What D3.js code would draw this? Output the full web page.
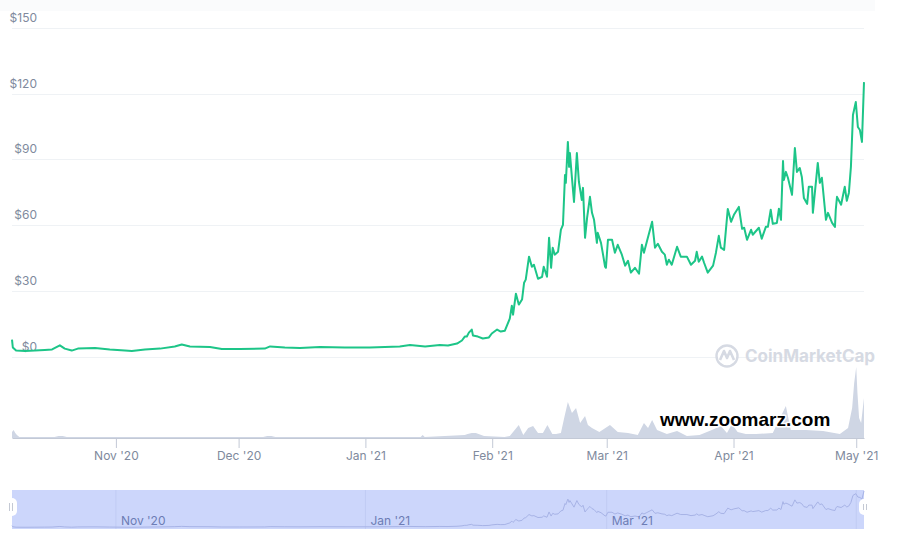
<!DOCTYPE html>
<html><head><meta charset="utf-8">
<script src="https://cdn.jsdelivr.net/npm/d3@7"></script>
<style>html,body{margin:0;padding:0;background:#fff}svg{display:block}text{font-family:Inter,"Noto Sans",sans-serif}</style>
</head><body><svg id="c" width="897" height="539"></svg>
<script>
// days since 1 Nov 2020
const priceDays=[-25.4,-25.2,-24.4,-22.2,-19.8,-17.4,-15.6,-13.7,-12.5,-10.8,-9.3,-5.1,-1.5,2.2,3.9,7.1,10.8,14.4,16.1,18.1,23,25.9,30.3,36.4,37.7,41.3,45,49.9,56,62.1,69.4,71.9,75.6,79.2,81.2,83.4,84.6,85.3,85.8,86.3,87,87.3,88.5,89.7,91.2,91.9,93.2,94.1,95.1,96.3,96.8,97.1,97.8,98.5,99.3,99.8,100.2,101,101.7,102.2,103.2,104.2,104.6,105.4,105.9,106.4,106.8,107.3,108.1,108.8,109.3,109.8,110,110.5,110.8,111,111.5,112,112.7,113.2,113.9,114.2,114.7,115.2,115.9,116.4,116.9,117.6,117.8,118.6,119.1,119.6,119.8,120.3,121.3,122,122.7,123.7,124.5,125.2,125.9,126.9,127.9,128.6,129.1,129.8,131.1,131.8,132.5,133.5,134.2,134.7,135.2,135.9,137.2,138.1,139.6,140.6,141.6,142,142.5,143.3,143.8,144.7,146,146.7,147.4,147.9,148.7,149.6,150.4,151.1,152.3,153.1,153.6,154.3,155.3,155.7,157.2,157.9,158.9,159.4,160.1,160.6,161.6,162.1,162.6,163.1,163.3,163.8,164.3,165.3,166,166.5,167.2,167.7,168.2,169,169.4,170.2,170.4,171.6,172.1,172.6,173.6,174.1,175.1,175.8,176,176.3,177.3,178.2,178.7,179.2,179.7,180.2,180.9,181.4,181.9,182.4,182.9];
const priceValues=[7.7,4.1,2.7,2.5,2.7,3,3.2,5.1,3.6,2.7,3.6,3.9,3.2,2.7,2.5,3.2,3.6,4.6,5.5,4.6,4.3,3.4,3.4,3.6,4.6,4.1,3.9,4.3,4.1,4.1,4.6,5.2,4.6,5.2,5,5.9,7.3,9.1,9.1,10.9,12.3,9.6,9.1,8.2,8.7,10.5,12.3,11.4,11.8,17.3,23.2,19.1,28.7,23.7,26,33.7,35.1,45.6,41,41.9,35.5,36.4,41,36.4,54.2,40.5,49.7,46.5,47.8,57.9,60.1,82.9,79.3,98,86.6,92.9,81.6,70.6,92.9,79.7,71.5,77,54.2,63.3,72.9,65.6,62.4,51.9,56.5,51.9,46.5,41,40.5,53.3,53.3,47.4,51,46.5,41.5,43.7,38.3,40.5,37.8,51,47.4,52.4,61.5,49.7,51.5,47.8,46.5,41.9,44.2,41.9,50.1,45.6,45.6,41.9,43.7,47.8,43.3,45.6,42.8,38.3,41.5,47.4,55.1,49.7,48.7,67.4,61.5,64.7,68.3,58.3,58.8,53.3,57.9,55.6,58.8,53.8,59.2,59.2,67,60.6,61,67.5,62.4,89.3,80.6,84.3,81.6,73.8,95.2,84.3,86.1,82,72.4,69.7,77.5,77.5,65.6,88.4,79.3,81.6,62.4,65.6,61,59.2,67,72.9,69.3,77.5,71.1,74.7,86.6,110.3,116.2,104.8,103.4,98,125.3];
const volumeDays=[-25.4,-25,-24.6,-24.2,-23.6,-23,-15,-14,-13,-12,31,36,37,38,39,70,74.5,75,75.5,85.3,86,87,88,90,95,96.3,98.5,99.6,100.8,102,103.2,104.4,105.5,106.7,107.6,108.8,109.6,110.5,111.5,112.5,113.5,114.7,115.4,116.4,118.2,120.8,122.7,125.2,127.6,129.1,130.1,131.1,132.3,134.7,137.2,139.6,142.7,145.7,147.9,149.4,150.6,152,154,156.5,160.6,163.8,165,166.2,168.7,172.9,177,179,180,180.5,181,181.3,181.7,182.2,182.9];
const volumeValues=[0.6,0.8,0.5,0.3,0.1,0.1,0.1,0.2,0.2,0.1,0.1,0.1,0.2,0.2,0.1,0.1,0.1,0.3,0.1,0.3,0.4,0.5,0.5,0.2,0.1,0.2,1.3,0.3,1,1.2,0.5,0.5,1.3,0.4,0.4,0.5,2,3.6,2.5,3,1.5,2.2,1.3,1,0.6,1.3,0.6,0.5,0.3,1.5,1,1.8,0.8,0.4,0.7,0.2,0.3,0.8,1.2,0.5,1.4,0.6,0.4,0.4,0.5,3.2,0.8,0.8,0.8,0.7,0.4,1,3,5.5,7.1,4.5,2,1.5,4];
const monthDays=[0,30,61,92,120,151,181];
const monthLabels=["Nov '20","Dec '20","Jan '21","Feb '21","Mar '21","Apr '21","May '21"];
const navLabels=["Nov '20","Jan '21","Mar '21"];
const navDays=[0,61,120];
const priceTicks=[0,30,60,90,120,150];

const toDate=d=>new Date(Date.UTC(2020,10,1)+d*864e5);
const svg=d3.select("#c");
const x=d3.scaleUtc().domain([toDate(-25.4),toDate(182.9)]).range([12,864]);
const y=d3.scaleLinear().domain([0,150]).range([356.5,28]);
const yVol=d3.scaleLinear().domain([0,7.1]).range([438,367]);
const yNav=d3.scaleLinear().domain([0,125.3]).range([528,491]);

svg.append("rect").attr("x",0).attr("y",0).attr("width",875).attr("height",11).attr("fill","#fafbfc");

// grid and price axis
const ga=svg.append("g").attr("transform","translate(37,0)")
 .call(d3.axisLeft(y).tickValues(priceTicks).tickSize(0).tickPadding(0).tickFormat(d=>"$"+d));
ga.select(".domain").remove();
ga.selectAll("text").attr("x",0).attr("dy",null).attr("y",-6.5).attr("text-anchor","end")
 .attr("dominant-baseline","auto").style("font-size","12px").style("font-family",'Inter,sans-serif').attr("fill","#808a9d");
svg.insert("g","g").selectAll("line").data(priceTicks).join("line")
 .attr("x1",12).attr("x2",864).attr("y1",d=>Math.round(y(d))+.5).attr("y2",d=>Math.round(y(d))+.5)
 .attr("stroke","#eff2f5");

// CoinMarketCap watermark
const wm=svg.append("g");
wm.append("circle").attr("cx",727).attr("cy",356).attr("r",10.5).attr("fill","#fff").attr("stroke","#d6dae3").attr("stroke-width",2.4);
wm.append("path").attr("d","M720 360 L724 351 L727 358 L730 351 L734 360").attr("fill","none").attr("stroke","#d6dae3").attr("stroke-width",2.6).attr("stroke-linejoin","round");
wm.append("text").attr("x",745).attr("y",362).text("CoinMarketCap").attr("fill","#d6dae3")
 .style("font-size","17px").style("font-weight",700);

// volume
svg.append("path").datum(d3.range(volumeDays.length))
 .attr("d",d3.area().x(i=>x(toDate(volumeDays[i]))).y0(438).y1(i=>yVol(volumeValues[i])))
 .attr("fill","#cfd6e4");

// x axis
const xa=svg.append("g").attr("transform","translate(0,438)")
 .call(d3.axisBottom(x).tickValues(monthDays.map(toDate)).tickSize(10).tickSizeOuter(0).tickPadding(3)
 .tickFormat((d,i)=>monthLabels[i]));
xa.select(".domain").attr("stroke","#c3c9d6");
xa.selectAll(".tick line").attr("stroke","#c3c9d6");
xa.selectAll("text").style("font-size","12px").style("font-family",'Inter,sans-serif').attr("fill","#808a9d");

// price line
svg.append("path").datum(d3.range(priceDays.length))
 .attr("d",d3.line().x(i=>x(toDate(priceDays[i]))).y(i=>y(priceValues[i])))
 .attr("fill","none").attr("stroke","#1dc588").attr("stroke-width",2).attr("stroke-linejoin","round");

// watermark text
svg.append("text").attr("x",660).attr("y",426).text("www.zoomarz.com")
 .style("font-family",'"Liberation Sans",Arial,sans-serif').style("font-weight",700).style("font-size","19px")
 .attr("fill","#000").attr("stroke","#fff").attr("stroke-width",3).attr("paint-order","stroke").attr("stroke-linejoin","round");

// navigator
svg.append("rect").attr("x",12).attr("y",490).attr("width",852).attr("height",39).attr("fill","#ccd6fb");
svg.append("g").selectAll("line").data(monthDays.filter((d,i)=>i%2==0||i==6)).join("line")
 .attr("x1",d=>x(toDate(d))).attr("x2",d=>x(toDate(d))).attr("y1",490).attr("y2",529).attr("stroke","#c0cbf3");
svg.append("path").datum(d3.range(priceDays.length))
 .attr("d",d3.line().x(i=>x(toDate(priceDays[i]))).y(i=>yNav(priceValues[i])))
 .attr("fill","none").attr("stroke","#a7b3e6").attr("stroke-width",1);
svg.append("g").selectAll("text").data(navDays).join("text")
 .attr("x",d=>x(toDate(d))+5).attr("y",525).text((d,i)=>navLabels[i])
 .attr("fill","#6d7db5").style("font-size","12px");
[[5,498,18],[859,499,16]].forEach(([hx,hy,hh])=>{
 const g=svg.append("g");
 g.append("rect").attr("x",hx).attr("y",hy).attr("width",12).attr("height",hh).attr("rx",5).attr("fill","#fff");
 [hx+4.5,hx+7.5].forEach(lx=>g.append("line").attr("x1",lx).attr("x2",lx).attr("y1",hy+5).attr("y2",hy+hh-5).attr("stroke","#c4c9d4"));
});
</script></body></html>
